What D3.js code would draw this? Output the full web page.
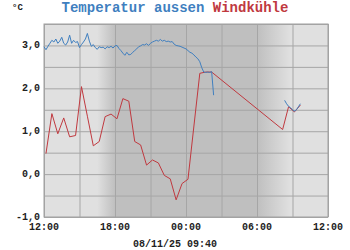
<!DOCTYPE html>
<html>
<head>
<meta charset="utf-8">
<script src="https://cdn.jsdelivr.net/npm/d3@7"></script>
<style>
  body { margin: 0; background: #fff; }
  text { font-family: "Liberation Mono", "DejaVu Sans Mono", monospace; font-weight: bold; }
</style>
</head>
<body>
<svg id="chart" width="350" height="250"></svg>
<script>
// chart window
const startTime = "2025-11-07T12:00";
const endTime = "2025-11-08T12:00";
const stampLabel = "08/11/25 09:40";

// x ticks every 6h, grid every 3h
const xTickTimes = ["2025-11-07T12:00", "2025-11-07T18:00", "2025-11-08T00:00", "2025-11-08T06:00", "2025-11-08T12:00"];
const xTickLabels = ["12:00", "18:00", "00:00", "06:00", "12:00"];
const yTicks = [-1, 0, 1, 2, 3];
const yTickLabels = ["-1,0", "0,0", "1,0", "2,0", "3,0"];

// night shading: dusk fade start, full dark, dark end, dawn fade end
const nightTimes = ["2025-11-07T16:30", "2025-11-07T18:00", "2025-11-08T06:00", "2025-11-08T08:50"];

// Temperatur aussen, 10-min samples, two segments
const tempStartA = "2025-11-07T12:00";
const tempA = [2.97, 2.90, 2.98, 3.05, 3.12, 3.08, 3.15, 3.05, 3.10, 3.19, 3.05, 3.01,
  3.08, 3.24, 3.05, 3.12, 3.07, 3.09, 2.95, 3.02, 3.08, 3.15, 3.28, 3.10,
  2.98, 3.02, 2.95, 2.91, 2.97, 2.95, 2.96, 2.92, 2.97, 2.95, 2.98, 2.94,
  2.99, 3.00, 2.93, 2.88, 2.82, 2.77, 2.84, 2.78, 2.79, 2.84, 2.88, 2.92,
  2.97, 2.99, 3.02, 3.01, 3.04, 3.00, 3.05, 3.08, 3.10, 3.12, 3.10, 3.14,
  3.10, 3.12, 3.09, 3.10, 3.08, 3.09, 3.03, 3.00, 2.99, 2.98, 2.96, 2.94,
  2.92, 2.88, 2.84, 2.82, 2.78, 2.73, 2.69, 2.62, 2.48, 2.38, 2.37, 2.38,
  2.37, 2.39, 1.84];
const tempStartB = "2025-11-08T08:20";
const tempB = [1.72, 1.64, 1.58, 1.55, 1.50, 1.47, 1.50, 1.57, 1.64];

// Windkühle, half-hourly
const chillTimes = ["2025-11-07T12:10", "2025-11-07T12:40", "2025-11-07T13:10", "2025-11-07T13:40",
  "2025-11-07T14:10", "2025-11-07T14:40", "2025-11-07T15:10", "2025-11-07T15:40",
  "2025-11-07T16:10", "2025-11-07T16:40", "2025-11-07T17:10", "2025-11-07T17:40",
  "2025-11-07T18:10", "2025-11-07T18:40", "2025-11-07T19:10", "2025-11-07T19:40",
  "2025-11-07T20:10", "2025-11-07T20:40", "2025-11-07T21:10", "2025-11-07T21:40",
  "2025-11-07T22:10", "2025-11-07T22:40", "2025-11-07T23:10", "2025-11-07T23:40",
  "2025-11-08T00:10", "2025-11-08T01:10", "2025-11-08T01:40", "2025-11-08T02:10",
  "2025-11-08T08:10", "2025-11-08T08:40", "2025-11-08T09:10", "2025-11-08T09:40"];
const chillValues = [0.48, 1.41, 0.94, 1.31, 0.87, 0.90, 2.04, 1.35,
  0.66, 0.76, 1.34, 1.40, 1.29, 1.76, 1.70, 0.76,
  0.68, 0.21, 0.33, 0.26, -0.03, -0.11, -0.60, -0.22,
  -0.12, 2.35, 2.38, 2.38, 1.04, 1.57, 1.45, 1.61];

const blue = "#3f7fbf";
const red = "#c0393f";

const svg = d3.select("#chart");
const margin = { left: 44, right: 22, top: 24, bottom: 33 };
const W = 350, H = 250;

const x = d3.scaleTime()
  .domain([new Date(startTime), new Date(endTime)])
  .range([margin.left, W - margin.right]);
const y = d3.scaleLinear().domain([-1, 3.5]).range([H - margin.bottom, margin.top]);

const x0 = x.range()[0], x1 = x.range()[1];
const yTop = y.range()[1], yBot = y.range()[0];

// background + night shading
const defs = svg.append("defs");
const light = "#e0e0e0", dark = "#bfbfbf";
function grad(id, a, b) {
  const g = defs.append("linearGradient").attr("id", id);
  g.append("stop").attr("offset", "0%").attr("stop-color", a);
  g.append("stop").attr("offset", "100%").attr("stop-color", b);
}
grad("dusk", light, dark);
grad("dawn", dark, light);

svg.append("rect").attr("x", x0).attr("y", yTop).attr("width", x1 - x0).attr("height", yBot - yTop).attr("fill", light);
const nt = nightTimes.map(d => x(new Date(d)));
svg.append("rect").attr("x", nt[0]).attr("y", yTop).attr("width", nt[1] - nt[0]).attr("height", yBot - yTop).attr("fill", "url(#dusk)");
svg.append("rect").attr("x", nt[1]).attr("y", yTop).attr("width", nt[2] - nt[1]).attr("height", yBot - yTop).attr("fill", dark);
svg.append("rect").attr("x", nt[2]).attr("y", yTop).attr("width", nt[3] - nt[2]).attr("height", yBot - yTop).attr("fill", "url(#dawn)");

// grid
svg.append("g")
  .attr("transform", `translate(0,${yBot})`)
  .call(d3.axisBottom(x).ticks(d3.timeHour.every(3)).tickSize(-(yBot - yTop)).tickFormat(""))
  .call(g => g.select(".domain").remove())
  .call(g => g.selectAll("line").attr("stroke", "#a6a6a6"));
svg.append("g")
  .attr("transform", `translate(${x0},0)`)
  .call(d3.axisLeft(y).tickValues(d3.range(-1, 3.51, 0.5)).tickSize(-(x1 - x0)).tickFormat(""))
  .call(g => g.select(".domain").remove())
  .call(g => g.selectAll("line").attr("stroke", "#a6a6a6"));

svg.append("rect").attr("x", x0).attr("y", yTop).attr("width", x1 - x0).attr("height", yBot - yTop)
  .attr("fill", "none").attr("stroke", "#a0a0a0");

// lines
const line = d3.line().x(d => x(d[0])).y(d => y(d[1]));
const step = 10 * 60 * 1000;
const segA = tempA.map((v, i) => [new Date(+new Date(tempStartA) + i * step), v]);
const segB = tempB.map((v, i) => [new Date(+new Date(tempStartB) + i * step), v]);
const chill = chillTimes.map((t, i) => [new Date(t), chillValues[i]]);

svg.append("path").datum(chill).attr("d", line).attr("fill", "none").attr("stroke", red).attr("stroke-width", 1);
[segA, segB].forEach(s => svg.append("path").datum(s).attr("d", line)
  .attr("fill", "none").attr("stroke", blue).attr("stroke-width", 1));

// axis labels
svg.append("g").selectAll("text").data(xTickTimes).join("text")
  .attr("x", d => x(new Date(d))).attr("y", yBot + 13)
  .attr("text-anchor", "middle").attr("font-size", 10).attr("fill", "#222")
  .text((d, i) => xTickLabels[i]);
svg.append("g").selectAll("text").data(yTicks).join("text")
  .attr("x", x0 - 4).attr("y", d => y(d) + 3)
  .attr("text-anchor", "end").attr("font-size", 10).attr("fill", "#222")
  .text((d, i) => yTickLabels[i]);

svg.append("text").attr("x", 12).attr("y", 10).attr("font-size", 9).attr("fill", "#222").text("°C");

const title = svg.append("text").attr("x", 175).attr("y", 12).attr("text-anchor", "middle").attr("font-size", 14);
title.append("tspan").attr("fill", blue).text("Temperatur aussen ");
title.append("tspan").attr("fill", red).text("Windkühle");

svg.append("text").attr("x", 175).attr("y", 247).attr("text-anchor", "middle").attr("font-size", 10).attr("fill", "#222").text(stampLabel);
</script>
</body>
</html>
